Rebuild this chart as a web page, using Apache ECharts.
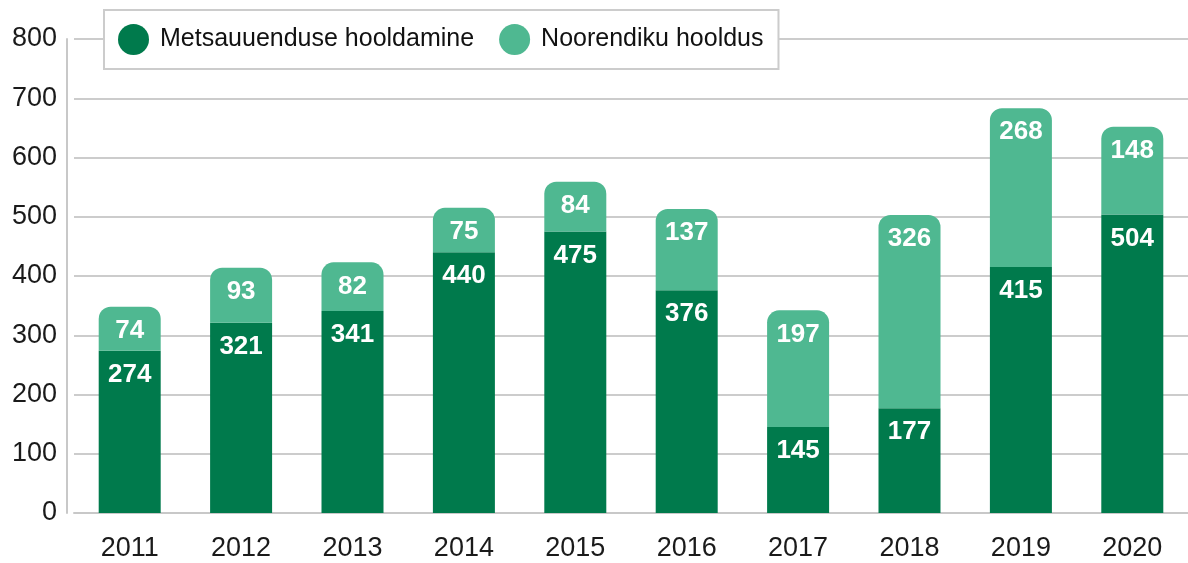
<!DOCTYPE html>
<html>
<head>
<meta charset="utf-8">
<script src="https://cdn.jsdelivr.net/npm/echarts@6/dist/echarts.min.js"></script>
<style>
    html, body { margin: 0; padding: 0; background: #fff; }
    #chart { width: 1188px; height: 563px; }
</style>
</head>
<body>
<div id="chart"></div>
<script>
    const years = ['2011', '2012', '2013', '2014', '2015', '2016', '2017', '2018', '2019', '2020'];
    const metsauuendus = [274, 321, 341, 440, 475, 376, 145, 177, 415, 504];
    const noorendik = [74, 93, 82, 75, 84, 137, 197, 326, 268, 148];

    const darkGreen = '#007a4c';
    const lightGreen = '#4fb891';

    const chart = echarts.init(document.getElementById('chart'));

    const barLabel = {
        show: true,
        position: 'insideTop',
        distance: 11,
        color: '#fff',
        fontSize: 26,
        fontWeight: 'bold',
        fontFamily: 'Liberation Sans'
    };

    const option = {
        animation: false,
        grid: {
            left: 74,
            right: 0,
            top: 39,
            bottom: 50
        },
        legend: {
            left: 104,
            top: 10,
            padding: [14, 15, 14, 14],
            itemGap: 25,
            itemWidth: 31,
            itemHeight: 31,
            icon: 'circle',
            borderColor: '#cccccc',
            borderWidth: 2,
            backgroundColor: '#fff',
            textStyle: {
                fontSize: 25,
                color: '#111',
                fontFamily: 'Liberation Sans',
                padding: [0, 0, 0, 6]
            },
            data: ['Metsauuenduse hooldamine', 'Noorendiku hooldus']
        },
        xAxis: {
            type: 'category',
            data: years,
            axisTick: { show: false },
            axisLine: { lineStyle: { color: '#c8c8c8', width: 2 } },
            axisLabel: {
                margin: 22,
                fontSize: 27,
                color: '#1a1a1a',
                fontFamily: 'Liberation Sans'
            }
        },
        yAxis: {
            type: 'value',
            min: 0,
            max: 800,
            interval: 100,
            offset: 7,
            axisLine: { show: true, lineStyle: { color: '#c8c8c8', width: 2 } },
            axisTick: { show: false },
            splitLine: { lineStyle: { color: '#cccccc', width: 2 } },
            axisLabel: {
                margin: 10,
                fontSize: 27,
                color: '#1a1a1a',
                fontFamily: 'Liberation Sans'
            }
        },
        series: [
            {
                name: 'Metsauuenduse hooldamine',
                type: 'bar',
                stack: 'total',
                barWidth: 62,
                itemStyle: { color: darkGreen },
                label: barLabel,
                data: metsauuendus
            },
            {
                name: 'Noorendiku hooldus',
                type: 'bar',
                stack: 'total',
                barWidth: 62,
                itemStyle: { color: lightGreen, borderRadius: [12, 12, 0, 0] },
                label: barLabel,
                data: noorendik
            }
        ]
    };

    chart.setOption(option);
</script>
</body>
</html>
